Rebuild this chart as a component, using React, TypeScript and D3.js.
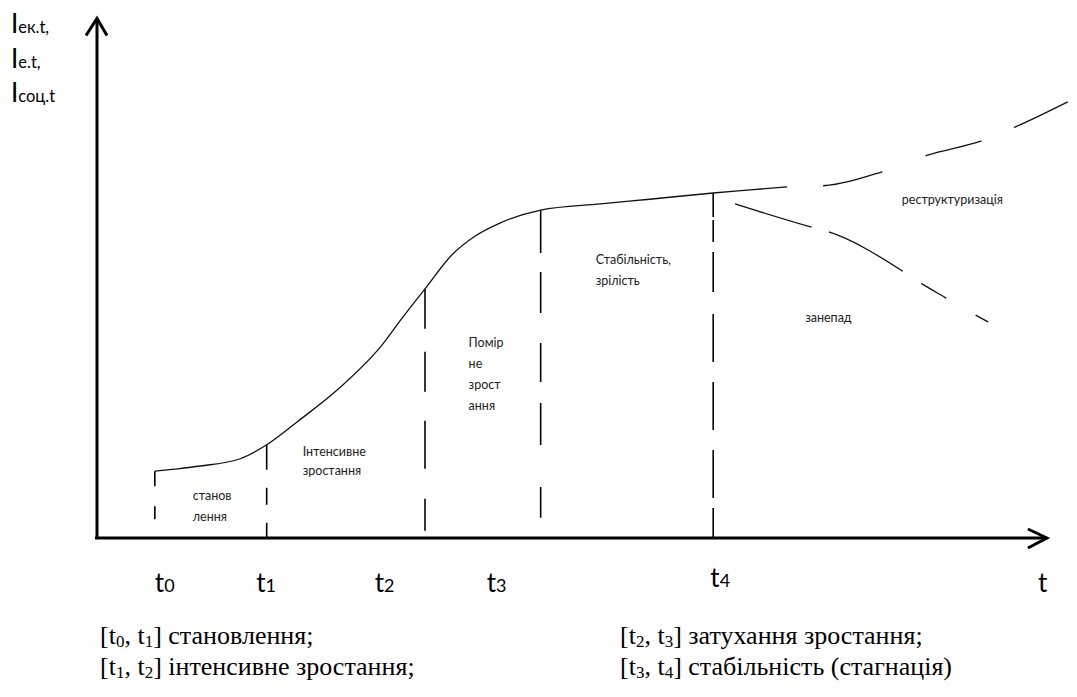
import React from "react";
import * as d3 from "d3";

const W = 1077, H = 697;

// phase boundaries t0..t4 (x units) and where their dashed lines stop at the bottom
const phaseT = [6.1, 17.9, 34.6, 46.8, 65.0];
const phaseBottom = [0, 0, 1.2, 3.9, 0];
const phaseTop = [12.9, 18.0, 48.1, 63.3, 66.6];

// tick labels under the axis
const tickNames = ["0", "1", "2", "3", "4"];
const tickPos = [6.1, 16.8, 29.3, 41.1, 64.7];

// main life-cycle curve
const curveX = [6.1, 8.2, 10.9, 15.1, 17.9, 21.1, 25.6, 29.9, 32.2, 34.6, 37.4, 39.9, 42.5, 46.8, 53.1, 58.3, 65.0, 68.9, 72.8];
const curveY = [12.9, 13.3, 13.9, 15.3, 18.0, 22.4, 29.0, 36.9, 42.5, 48.1, 54.6, 58.3, 60.8, 63.3, 64.5, 65.4, 66.6, 67.2, 67.8];

// restructuring branch (dashed, up)
const growX = [72.8, 76.6, 82.8, 87.6, 93.5, 96.8, 102.4];
const growY = [67.8, 68.0, 70.7, 73.9, 76.8, 79.3, 84.2];

// decline branch (dashed, down)
const declX = [67.3, 75.4, 77.2, 85.0, 86.9, 89.6, 92.6, 94.0];
const declY = [64.5, 60.0, 59.1, 51.5, 49.2, 46.3, 43.1, 41.7];

// phase captions
const notes = [
  { lines: ["станов", "лення"], x: 10.1, y: 7.3, gap: 21 },
  { lines: ["Інтенсивне", "зростання"], x: 21.7, y: 15.8, gap: 19 },
  { lines: ["Помір", "не", "зрост", "ання"], x: 39.2, y: 36.9, gap: 21 },
  { lines: ["Стабільність,", "зрілість"], x: 52.6, y: 52.9, gap: 21 },
  { lines: ["занепад"], x: 74.7, y: 41.7, gap: 0 },
  { lines: ["реструктуризація"], x: 84.9, y: 64.5, gap: 0 },
];

const yLabelSubs = ["ек.t,", "e.t,", "соц.t"];

const legendLeft = [
  { a: "0", b: "1", text: "становлення;" },
  { a: "1", b: "2", text: "інтенсивне зростання;" },
];
const legendRight = [
  { a: "2", b: "3", text: "затухання зростання;" },
  { a: "3", b: "4", text: "стабільність (стагнація)" },
];

const phaseDash = [
  "15 20 13 40",
  "25 18 17 18 15",
  "40 23 40 29 48 30 32",
  "43 19 41 30 39 21 42 42 31",
  "24 3 22 10 40 22 48 20 48 20 48 10 31",
];

const sans = "Lato, 'Open Sans', sans-serif";
const serif = "'Liberation Serif', 'Times New Roman', serif";

export default function App() {
  const x = d3.scaleLinear().domain([0, 100]).range([97, 1045]);
  const y = d3.scaleLinear().domain([0, 100]).range([538, 20]);

  const line = d3.line<[number, number]>()
    .x(d => x(d[0]))
    .y(d => y(d[1]))
    .curve(d3.curveMonotoneX);

  const mainPath = line(curveX.map((v, i) => [v, curveY[i]]) as [number, number][]) || "";
  const growPath = line(growX.map((v, i) => [v, growY[i]]) as [number, number][]) || "";
  const declPath = line(declX.map((v, i) => [v, declY[i]]) as [number, number][]) || "";

  const x0 = x(0), y0 = y(0);
  const xEnd = x(100.2), yEnd = y(100.3);

  const legendRow = (r: { a: string; b: string; text: string }, lx: number, ly: number, key: string) => (
    <text key={key} x={lx} y={ly} fontFamily={serif} fontSize={26} fill="#000">
      [t<tspan fontSize={17} dy={3}>{r.a}</tspan>
      <tspan dy={-3}>, t</tspan>
      <tspan fontSize={17} dy={3}>{r.b}</tspan>
      <tspan dy={-3}>] {r.text}</tspan>
    </text>
  );

  return (
    <svg width={W} height={H} style={{ position: "absolute", left: 0, top: 0, background: "#fff" }}>
      {/* axes */}
      <line x1={x0} y1={y0 + 1} x2={x0} y2={yEnd} stroke="#000" strokeWidth={3} />
      <polyline points={`${x0 - 11},${yEnd + 17} ${x0},${yEnd} ${x0 + 10},${yEnd + 17}`} fill="none" stroke="#000" strokeWidth={3} />
      <line x1={x0 - 2} y1={y0} x2={xEnd} y2={y0} stroke="#000" strokeWidth={3} />
      <polyline points={`${xEnd - 19},${y0 - 9} ${xEnd},${y0} ${xEnd - 19},${y0 + 10}`} fill="none" stroke="#000" strokeWidth={3} />

      {/* y label */}
      {yLabelSubs.map((s, i) => (
        <text key={s} x={11} y={33 + i * 34.5} fontFamily={sans} fill="#000">
          <tspan fontSize={26}>I</tspan>
          <tspan fontSize={16.5}>{s}</tspan>
        </text>
      ))}

      {/* phase boundaries */}
      {phaseT.map((t, i) => (
        <line key={"v" + i} x1={x(t)} x2={x(t)} y1={y(phaseTop[i])} y2={y(phaseBottom[i])}
          stroke="#000" strokeWidth={1.6} strokeDasharray={phaseDash[i]} />
      ))}

      {/* curve and branches */}
      <path d={mainPath} fill="none" stroke="#111" strokeWidth={1.3} />
      <path d={growPath} fill="none" stroke="#111" strokeWidth={1.3} strokeDasharray="0 36 61 46 58 35 62" />
      <path d={declPath} fill="none" stroke="#111" strokeWidth={1.3} strokeDasharray="80 18 84 22 29 34 15" />

      {/* phase captions */}
      {notes.map((n, i) => (
        <text key={"n" + i} fontFamily={sans} fontSize={12.5} fill="#222">
          {n.lines.map((l, j) => (
            <tspan key={j} x={x(n.x)} y={y(n.y) + j * n.gap}>{l}</tspan>
          ))}
        </text>
      ))}

      {/* tick labels */}
      {tickNames.map((s, i) => (
        <text key={"t" + i} x={x(tickPos[i])} y={i === 4 ? 587 : 592} fontFamily={sans} fill="#000">
          <tspan fontSize={26}>t</tspan>
          <tspan fontSize={18}>{s}</tspan>
        </text>
      ))}
      <text x={1038} y={592} fontFamily={sans} fontSize={26} fill="#000">t</text>

      {/* legend */}
      {legendLeft.map((r, i) => legendRow(r, 100, 644 + i * 31, "l" + i))}
      {legendRight.map((r, i) => legendRow(r, 620, 644 + i * 31, "r" + i))}
    </svg>
  );
}
